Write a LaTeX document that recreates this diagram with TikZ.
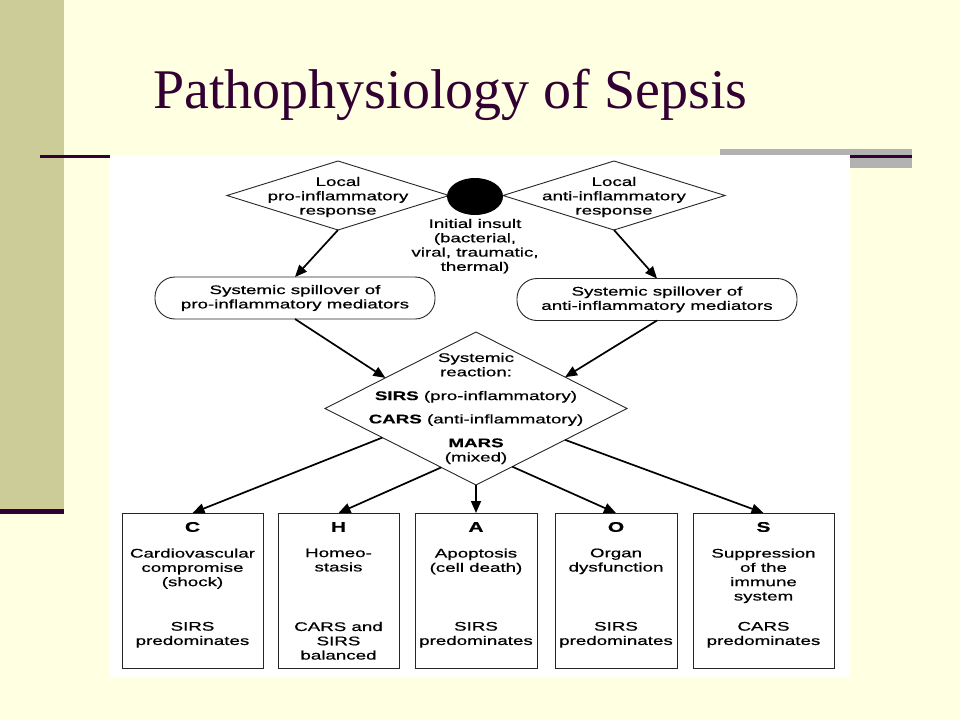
\documentclass[tikz,border=0pt]{standalone}
\usepackage{fontspec}
\usepackage{tikz}
\usetikzlibrary{shapes.geometric,arrows.meta,calc,positioning}
\setmainfont{Liberation Serif}
\newfontfamily\diagfam[FakeStretch=1.5,FakeBold=0.6]{Liberation Sans}

\definecolor{slidebg}{HTML}{FFFFE1}
\definecolor{sidebar}{HTML}{CCCC99}
\definecolor{plum}{HTML}{330033}
\definecolor{barGray}{HTML}{B2B2B2}

\tikzset{
  txt/.style={font=\diagfam\fontsize{12.5pt}{14.3pt}\selectfont, align=center, inner sep=0pt},
  dia/.style={diamond, draw=black!85, line width=0.9pt, inner sep=0pt, outer sep=0pt},
  spill/.style={txt, rectangle, rounded corners=20pt, draw=black!85, line width=0.9pt,
    minimum width=280pt, minimum height=42pt, outer sep=0pt},
  outbox/.style={rectangle, draw=black!85, line width=0.9pt, minimum height=155pt, outer sep=0pt},
  letter/.style={font=\diagfam\fontsize{14pt}{16pt}\selectfont\bfseries, inner sep=0pt},
  arr/.style={-{Triangle[length=12pt,width=10pt]}, line width=1.7pt}
}

\begin{document}
\begin{tikzpicture}[x=1pt,y=-1pt]
  \useasboundingbox (0,0) rectangle (960,720);
  % slide
  \fill[slidebg] (0,0) rectangle (960,720);
  \fill[sidebar] (0,0) rectangle (64,509);
  \fill[plum] (0,509) rectangle (64,514);
  \fill[barGray] (720,149) rectangle (912,168);
  \draw[plum, line width=3pt] (40,156) -- (912,156);
  \node[font=\fontsize{56pt}{60pt}\selectfont, text=plum, anchor=base west, inner sep=0pt]
    (title) at (153,108) {Pathophysiology of Sepsis};
  % figure
  \fill[white] (110,155) rectangle (850,678);

  \node[dia, minimum width=222pt, minimum height=69pt] (locL) at (338,195.5) {};
  \node[txt, anchor=north] (locLt) at (338,176.7) {Local\\pro-inflammatory\\response};
  \node[dia, minimum width=222pt, minimum height=69pt] (locR) at (614,195.5) {};
  \node[txt, anchor=north] (locRt) at (614,176.7) {Local\\anti-inflammatory\\response};
  \node[ellipse, fill=black, minimum width=56pt, minimum height=37pt, inner sep=0pt] (ins) at (475,196.5) {};
  \node[txt, anchor=north, below=3.5pt of ins] (inst) {Initial insult\\(bacterial,\\viral, traumatic,\\thermal)};

  \node[spill] (spillL) at (295,298) {Systemic spillover of\\pro-inflammatory mediators};
  \node[spill] (spillR) at (657,299.5) {Systemic spillover of\\anti-inflammatory mediators};

  \node[dia, minimum width=302pt, minimum height=153pt] (sys) at (476,408.5) {};
  \node[txt, anchor=north] (syst) at (476,352.7) {Systemic\\reaction:\\[9.5pt]\textbf{SIRS} (pro-inflammatory)\\[9pt]\textbf{CARS} (anti-inflammatory)\\[9.5pt]\textbf{MARS}\\(mixed)};

  \foreach \nm/\xc/\w/\ltr/\dsc/\res in {
    boxC/192.5/141/C/{Cardiovascular\\compromise\\(shock)}/{SIRS\\predominates},
    boxH/338.5/121/H/{Homeo-\\stasis}/{CARS and\\SIRS\\balanced},
    boxA/476/122/A/{Apoptosis\\(cell death)}/{SIRS\\predominates},
    boxO/616/122/O/{Organ\\dysfunction}/{SIRS\\predominates},
    boxS/763.5/141/S/{Suppression\\of the\\immune\\system}/{CARS\\predominates}}
  {
    \node[outbox, minimum width=\w pt] (\nm) at (\xc,590.5) {};
    \node[letter] (\nm-l) at (\xc,527) {\ltr};
    \node[txt, anchor=north] (\nm-d) at (\xc,548.3) {\dsc};
    \node[txt, anchor=north] (\nm-r) at (\xc,621.7) {\res};
  }

  % arrows
  \draw[arr] (locL.south) -- (spillL.north);
  \draw[arr] (locR.south) -- (spillR.north);
  \draw[arr] (spillL.south) -- ($(sys.west)!0.4!(sys.north)$);
  \draw[arr] (spillR.south) -- ($(sys.east)!0.41!(sys.north)$);
  \draw[arr] ($(sys.west)!0.38!(sys.south)$) -- (boxC.north);
  \draw[arr] ($(sys.west)!0.77!(sys.south)$) -- (boxH.north);
  \draw[arr] (sys.south) -- (boxA.north);
  \draw[arr] ($(sys.east)!0.76!(sys.south)$) -- (boxO.north);
  \draw[arr] ($(sys.east)!0.41!(sys.south)$) -- (boxS.north);
\end{tikzpicture}
\end{document}
